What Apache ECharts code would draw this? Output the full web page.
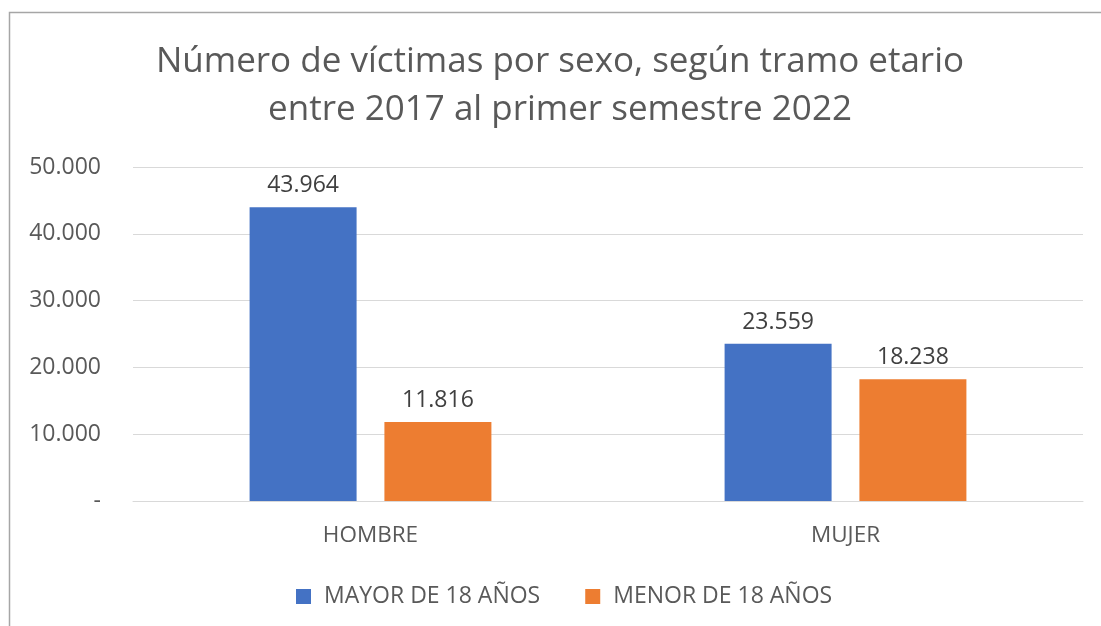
<!DOCTYPE html>
<html><head><meta charset="utf-8">
<script src="https://cdn.jsdelivr.net/npm/echarts@6/dist/echarts.min.js"></script>
<style>html,body{margin:0;padding:0;background:#fff}#c{width:1101px;height:626px}</style>
</head><body><div id="c"></div>
<script>
const categories = ['HOMBRE', 'MUJER'];
const mayor18 = [43964, 23559];
const menor18 = [11816, 18238];
const seriesNames = ['MAYOR DE 18 AÑOS', 'MENOR DE 18 AÑOS'];
const yTicks = [0, 10000, 20000, 30000, 40000, 50000];
const titleLines = ['Número de víctimas por sexo, según tramo etario', 'entre 2017 al primer semestre 2022'];

const FONT = 'Open Sans';
const fmt = v => v === 0 ? '-' : String(v).replace(/\B(?=(\d{3})+(?!\d))/g, '.');
const chart = echarts.init(document.getElementById('c'), null, {renderer: 'canvas'});
chart.setOption({
  animation: false,
  backgroundColor: '#fff',
  graphic: [{type: 'rect', shape: {x: 9.5, y: 12.5, width: 1200, height: 700}, style: {fill: 'none', stroke: '#a6a6a6', lineWidth: 1.5}, silent: true}],
  title: {
    text: titleLines.join('\n'), left: 555, top: 33, textAlign: 'center',
    textStyle: {fontFamily: FONT, fontSize: 35, fontWeight: 'normal', color: '#595959', lineHeight: 48}
  },
  legend: {
    data: seriesNames, top: 580, left: 291, itemWidth: 15, itemHeight: 15, itemGap: 45, icon: 'rect',
    textStyle: {fontFamily: FONT, fontSize: 23, color: '#595959', padding: [0, 0, 0, 8]}
  },
  grid: {left: 133, right: 18, top: 167, bottom: 125, containLabel: false},
  xAxis: {
    type: 'category', data: categories,
    axisLine: {lineStyle: {color: '#d9d9d9', width: 1}}, axisTick: {show: false},
    axisLabel: {fontFamily: FONT, fontSize: 22.5, color: '#595959', margin: 23}
  },
  yAxis: {
    type: 'value', min: 0, max: 50000, interval: 10000,
    axisLine: {show: false}, axisTick: {show: false},
    splitLine: {lineStyle: {color: '#d9d9d9', width: 1}},
    axisLabel: {fontFamily: FONT, fontSize: 23, color: '#595959', margin: 32, formatter: v => yTicks.includes(v) ? fmt(v) : ''}
  },
  series: [
    {name: seriesNames[0], type: 'bar', data: mayor18, barWidth: 107, barGap: '26%', itemStyle: {color: '#4472C4'},
     label: {show: true, position: 'top', distance: 10, fontFamily: FONT, fontSize: 23, color: '#404040', formatter: p => fmt(p.value)}},
    {name: seriesNames[1], type: 'bar', data: menor18, barWidth: 107, barGap: '26%', itemStyle: {color: '#ED7D31'},
     label: {show: true, position: 'top', distance: 10, fontFamily: FONT, fontSize: 23, color: '#404040', formatter: p => fmt(p.value)}}
  ]
});
</script></body></html>
